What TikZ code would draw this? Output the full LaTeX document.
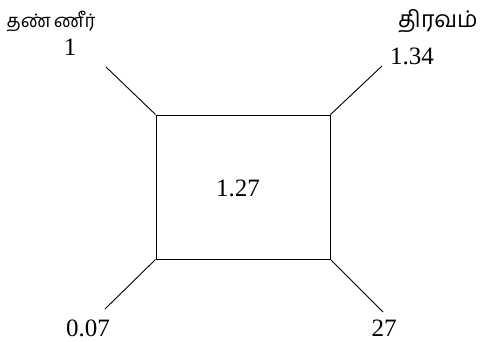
\documentclass[tikz,border=0pt]{standalone}
\usepackage{fontspec}
\setmainfont{Liberation Serif}
\newfontfamily\tamilfont[Script=Tamil]{Hind Madurai}
\usetikzlibrary{positioning}

\begin{document}
\begin{tikzpicture}[
    x=1pt, y=-1pt,
    num/.style={inner sep=0pt, font=\fontsize{25}{28}\selectfont},
    word/.style={inner sep=0pt, font=\tamilfont\fontsize{18.5}{22}\selectfont},
    link/.style={line width=0.9pt}
]
\useasboundingbox (0,0) rectangle (483,341);

% Centre box
\node[draw, line width=1pt, minimum width=174pt, minimum height=144pt, inner sep=0pt] (tank) at (243,187) {};
\node[num] (mid) at (238,188) {1.27};

% Labels
\node[word] (water) at (51,21) {தண்\,ணீர்};
\node[num] (w) at (70,47) {1};
\node[word, font=\tamilfont\fontsize{23}{26}\selectfont] (liquid) at (438,21) {திரவம்};
\node[num] (l) at (412,56) {1.34};
\node[num] (bl) at (88,328) {0.07};
\node[num] (br) at (384,328) {27};

% Line ends
\coordinate (tl) at (106,67);
\coordinate (tr) at (382,66);
\coordinate (dl) at (105,309);
\coordinate (dr) at (383,312);

% Lines
\draw[link] (tank.north west) -- (tl);
\draw[link] (tank.north east) -- (tr);
\draw[link] (tank.south west) -- (dl);
\draw[link] (tank.south east) -- (dr);

\end{tikzpicture}
\end{document}
